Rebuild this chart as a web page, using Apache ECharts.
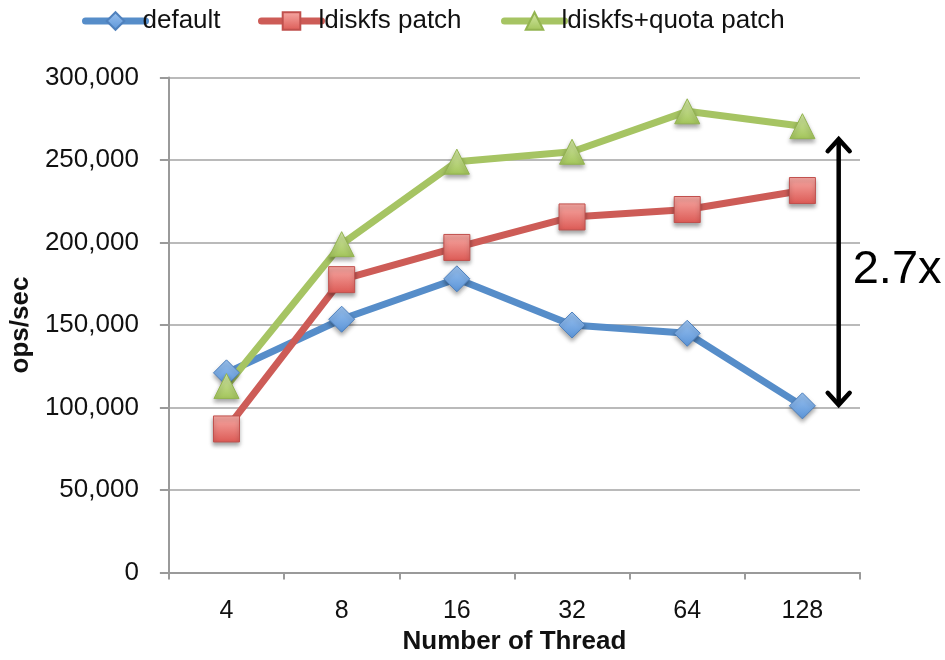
<!DOCTYPE html>
<html>
<head>
<meta charset="utf-8">
<script src="https://cdn.jsdelivr.net/npm/echarts@6/dist/echarts.min.js"></script>
<style>
  html, body { margin: 0; padding: 0; background: #fff; }
  #chart { width: 945px; height: 660px; }
</style>
</head>
<body>
<div id="chart"></div>
<script>
// Thread counts on the x axis
const threads = ['4', '8', '16', '32', '64', '128'];
// Throughput (ops/sec) per configuration
const defaultOps = [121000, 153500, 178000, 150000, 145000, 101000];
const ldiskfsOps = [87000, 177500, 197000, 215500, 220000, 231500];
const quotaOps = [113000, 199000, 249000, 255000, 279500, 270500];
// Value axis range
const yMin = 0;
const yMax = 300000;
const yStep = 50000;

const FONT = '"Liberation Sans", Arial, sans-serif';
const TEXT = '#111';
const AXIS = '#9a9a9a';

function grad(top, bottom) {
  return new echarts.graphic.LinearGradient(0, 0, 0, 1, [
    { offset: 0, color: top },
    { offset: 1, color: bottom }
  ]);
}

function lineSeries(name, data, color, symbol, size, fillTop, fillBottom, border) {
  return {
    name: name,
    type: 'line',
    data: data,
    symbol: symbol,
    symbolSize: size,
    showAllSymbol: true,
    lineStyle: { color: color, width: 7, cap: 'round', join: 'round' },
    itemStyle: {
      color: grad(fillTop, fillBottom),
      borderColor: border,
      borderWidth: 1,
      shadowColor: 'rgba(0,0,0,0.35)',
      shadowBlur: 4,
      shadowOffsetY: 3
    },
    emphasis: { disabled: true },
    animation: false
  };
}

const chart = echarts.init(document.getElementById('chart'), null, { renderer: 'canvas' });

const legendBase = {
  top: 3,
  itemWidth: 60,
  itemHeight: 22,
  itemGap: 0,
  lineStyle: { width: 7, cap: 'round' },
  textStyle: { fontFamily: FONT, fontSize: 26, color: TEXT, padding: [0, 0, 0, -8] },
  selectedMode: false
};

const option = {
  backgroundColor: '#fff',
  animation: false,
  textStyle: { fontFamily: FONT },
  legend: [
    Object.assign({}, legendBase, { left: 77, data: ['default'] }),
    Object.assign({}, legendBase, { left: 253, data: ['ldiskfs patch'] }),
    Object.assign({}, legendBase, { left: 496, data: ['ldiskfs+quota patch'] })
  ],
  grid: { left: 168, right: 85, top: 77.5, bottom: 87.5, containLabel: false },
  xAxis: {
    type: 'category',
    data: threads,
    boundaryGap: true,
    name: 'Number of Thread',
    nameLocation: 'middle',
    nameGap: 56,
    nameTextStyle: { fontFamily: FONT, fontSize: 26, fontWeight: 'bold', color: TEXT },
    axisLine: { lineStyle: { color: AXIS, width: 2 } },
    axisTick: { show: true, interval: 0, length: 7, lineStyle: { color: AXIS, width: 2 } },
    axisLabel: { fontFamily: FONT, fontSize: 25, color: TEXT, margin: 26, interval: 0 },
    splitLine: { show: false }
  },
  yAxis: {
    type: 'value',
    min: yMin,
    max: yMax,
    interval: yStep,
    name: 'ops/sec',
    nameLocation: 'middle',
    nameGap: 134,
    nameRotate: 90,
    nameTextStyle: { fontFamily: FONT, fontSize: 26, fontWeight: 'bold', color: TEXT },
    axisLine: { show: true, lineStyle: { color: AXIS, width: 2 } },
    axisTick: { show: true, length: 9, lineStyle: { color: AXIS, width: 2 } },
    axisLabel: {
      fontFamily: FONT, fontSize: 26, color: TEXT, margin: 30,
      formatter: function (v) { return v.toLocaleString('en-US'); }
    },
    splitLine: { show: true, lineStyle: { color: '#a3a3a3', width: 1.5 } }
  },
  series: [
    lineSeries('default', defaultOps, '#568dc9', 'diamond', 26, '#9cc3f0', '#5a94d8', '#4f81bd'),
    lineSeries('ldiskfs patch', ldiskfsOps, '#cd5c57', 'rect', 26, '#f7aaa5', '#dc5a55', '#c0504d'),
    lineSeries('ldiskfs+quota patch', quotaOps, '#a6c463', 'triangle', 25, '#d6eaa8', '#a2c45a', '#93b450')
  ]
};

chart.setOption(option);

// Double-headed arrow beside the last category, spanning default -> quota at 128 threads
const last = threads.length - 1;
const pTop = chart.convertToPixel({ seriesIndex: 2 }, [last, quotaOps[last]]);
const pBot = chart.convertToPixel({ seriesIndex: 0 }, [last, defaultOps[last]]);
const pPrev = chart.convertToPixel({ seriesIndex: 0 }, [last - 1, defaultOps[last]]);
const catW = pBot[0] - pPrev[0];
const ax = pBot[0] + catW * 0.315;
const yTop = pTop[1] + 12;
const yBot = pBot[1];
const head = 11;
const ratio = (quotaOps[last] / defaultOps[last]).toFixed(1) + 'x';

chart.setOption({
  graphic: [
    {
      type: 'line', z: 100,
      shape: { x1: ax, y1: yTop + 2, x2: ax, y2: yBot - 2 },
      style: { stroke: '#000', lineWidth: 4.5 }
    },
    {
      type: 'polyline', z: 100,
      shape: { points: [[ax - head, yTop + head + 2], [ax, yTop + 1], [ax + head, yTop + head + 2]] },
      style: { stroke: '#000', lineWidth: 4.5, fill: null, lineJoin: 'miter', lineCap: 'round' }
    },
    {
      type: 'polyline', z: 100,
      shape: { points: [[ax - head, yBot - head - 2], [ax, yBot - 1], [ax + head, yBot - head - 2]] },
      style: { stroke: '#000', lineWidth: 4.5, fill: null, lineJoin: 'miter', lineCap: 'round' }
    },
    {
      type: 'text', z: 100,
      x: ax + 14, y: (yTop + yBot) / 2 - 2,
      style: {
        text: ratio, fontFamily: FONT, fontSize: 47, fill: '#000',
        align: 'left', verticalAlign: 'middle'
      }
    }
  ]
});
</script>
</body>
</html>
